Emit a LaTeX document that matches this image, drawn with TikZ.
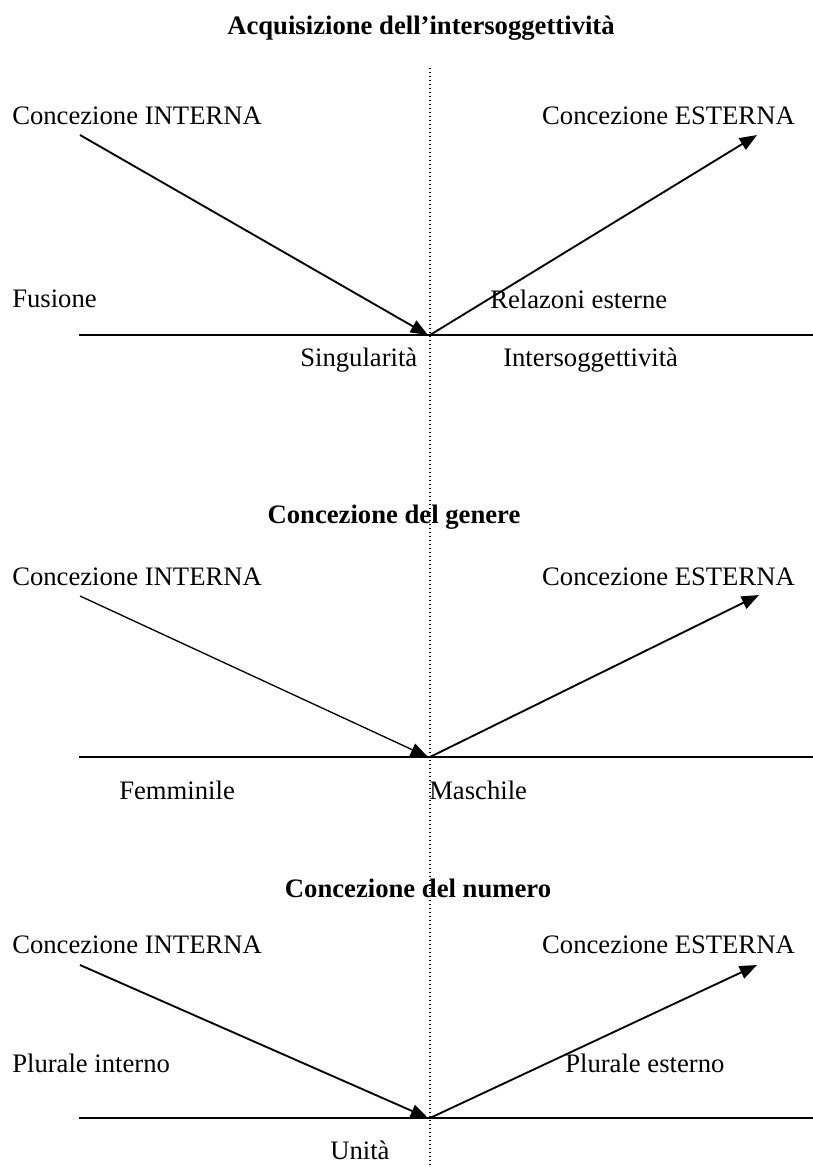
\documentclass[tikz,border=0pt]{standalone}
\usepackage{fontspec}
\setmainfont{Liberation Serif}
\usetikzlibrary{arrows.meta}
\begin{document}
\begin{tikzpicture}[x=0.75pt,y=-0.75pt,
  lbl/.style={anchor=west,inner sep=0pt,font=\fontsize{20}{24}\selectfont},
  lblr/.style={anchor=east,inner sep=0pt,font=\fontsize{20}{24}\selectfont},
  ttl/.style={anchor=center,inner sep=0pt,font=\fontsize{20}{24}\selectfont\bfseries},
  conn/.style={line width=1.4pt,-{Triangle[length=13pt,width=10pt]}},
  thinconn/.style={line width=1pt,-{Triangle[length=13pt,width=10pt]}},
  baseline/.style={line width=1.5pt},
  axis/.style={line width=1.1pt,dash pattern=on 1.1pt off 1.9pt}]
\useasboundingbox (0,0) rectangle (813,1167);
% vertical dotted axis
\coordinate (axtop) at (430,68);
\coordinate (axbot) at (430,1167);
\draw[axis] (axtop) -- (axbot);

% ---------- Section 1 ----------
\node[ttl] (t1) at (421,28) {Acquisizione dell’intersoggettività};
\node[lbl] (in1) at (12,116) {Concezione INTERNA};
\node[lblr] (es1) at (795,116) {Concezione ESTERNA};
\node[lbl] (fus) at (12,299) {Fusione};
\node[lbl] (rel) at (490,299) {Relazoni esterne};
\node[lbl] (sing) at (300,360) {Singularità};
\node[lbl] (inter) at (503,360) {Intersoggettività};
\coordinate (a1s) at (80,135);
\coordinate (v1l) at (428,335);
\coordinate (v1r) at (430,335);
\coordinate (a1e) at (757,135);
\coordinate (h1l) at (79,335);
\coordinate (h1r) at (813,335);
\draw[baseline] (h1l) -- (h1r);
\draw[conn] (a1s) -- (v1l);
\draw[conn] (v1r) -- (a1e);

% ---------- Section 2 ----------
\node[ttl] (t2) at (394,517) {Concezione del genere};
\node[lbl] (in2) at (12,577) {Concezione INTERNA};
\node[lblr] (es2) at (795,577) {Concezione ESTERNA};
\node[lbl] (fem) at (119,790) {Femminile};
\node[lbl] (mas) at (429,790) {Maschile};
\coordinate (a2s) at (80,596);
\coordinate (v2l) at (428,757);
\coordinate (v2r) at (430,757);
\coordinate (a2e) at (759,595);
\coordinate (h2l) at (79,757);
\coordinate (h2r) at (813,757);
\draw[baseline] (h2l) -- (h2r);
\draw[thinconn] (a2s) -- (v2l);
\draw[conn] (v2r) -- (a2e);

% ---------- Section 3 ----------
\node[ttl] (t3) at (418,888) {Concezione del numero};
\node[lbl] (in3) at (12,945) {Concezione INTERNA};
\node[lblr] (es3) at (795,945) {Concezione ESTERNA};
\node[lbl] (pli) at (12,1063) {Plurale interno};
\node[lbl] (ple) at (565,1063) {Plurale esterno};
\node[lbl] (uni) at (330,1150) {Unità};
\coordinate (a3s) at (80,965);
\coordinate (v3l) at (428,1118);
\coordinate (v3r) at (430,1118);
\coordinate (a3e) at (757,965);
\coordinate (h3l) at (79,1118);
\coordinate (h3r) at (813,1118);
\draw[baseline] (h3l) -- (h3r);
\draw[conn] (a3s) -- (v3l);
\draw[conn] (v3r) -- (a3e);
\end{tikzpicture}
\end{document}
